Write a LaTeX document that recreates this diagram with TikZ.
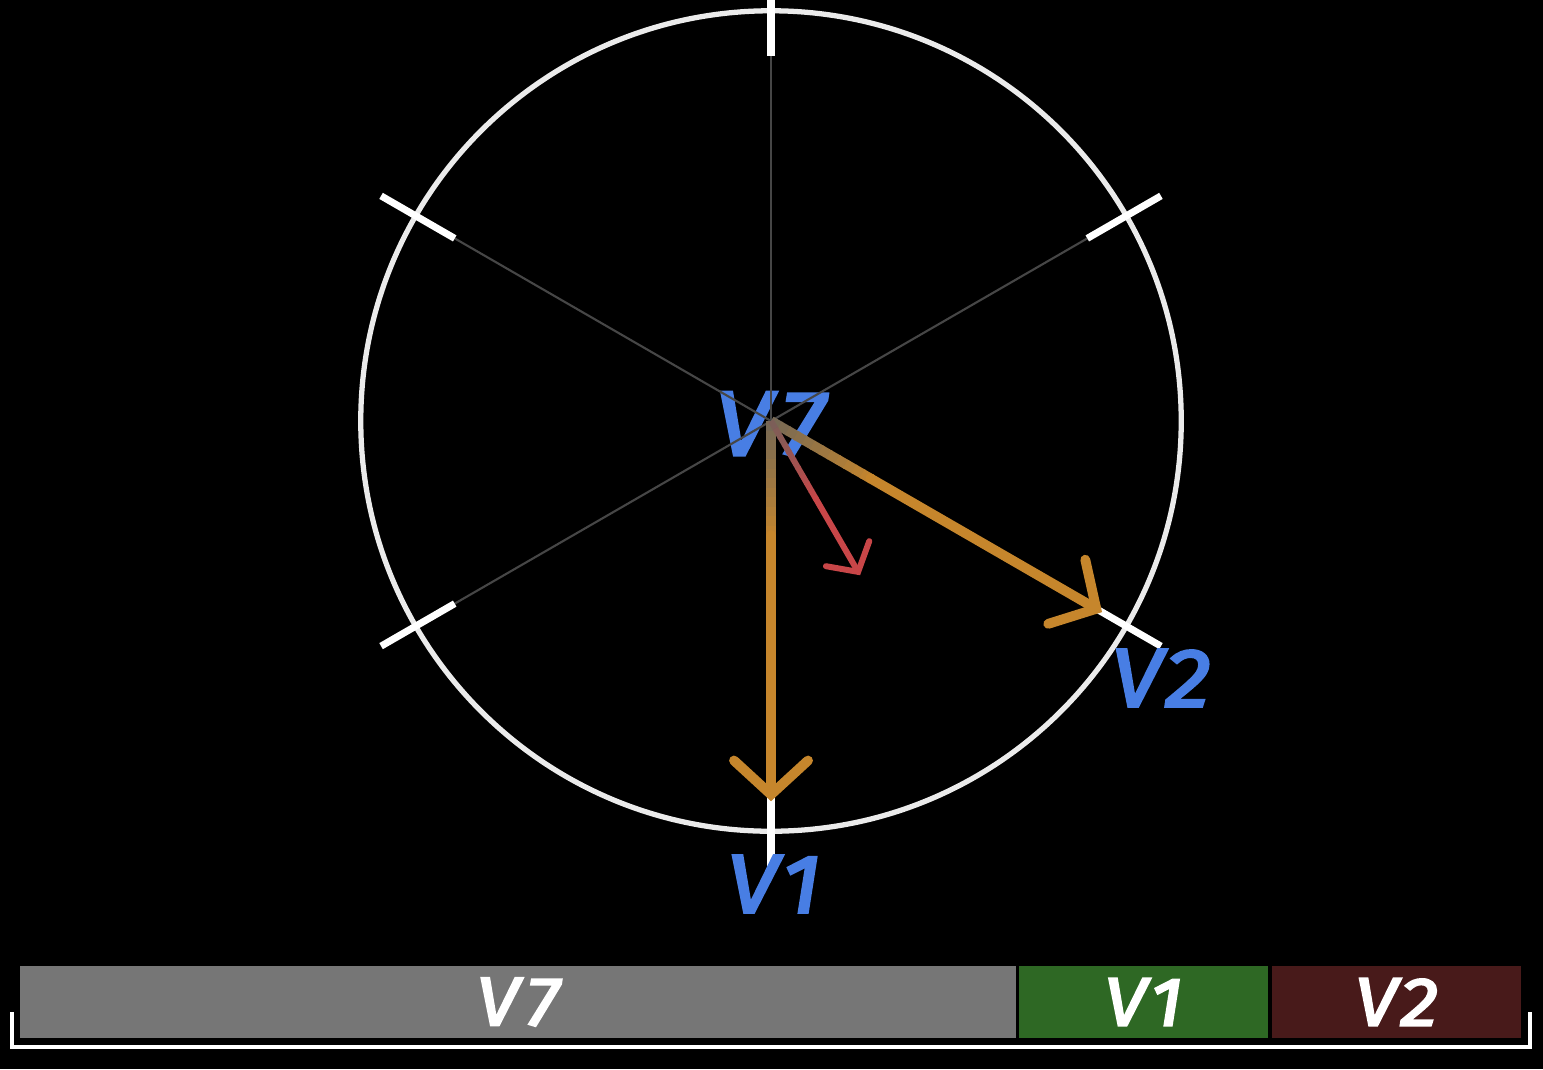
\documentclass[tikz,border=0pt]{standalone}
\usepackage{fontspec}
\setmainfont{Fira Sans}
\newfontfamily\lblfont{Fira Sans}[FakeStretch=1.12, FakeBold=3.2]
\usetikzlibrary{arrows.meta,calc}
\definecolor{lblblue}{RGB}{72,126,228}
\definecolor{arrorange}{RGB}{198,134,44}
\definecolor{arrred}{RGB}{200,70,72}
\definecolor{spoke}{RGB}{70,70,70}
\definecolor{fadegrey}{RGB}{105,100,92}
\definecolor{ringwhite}{RGB}{235,235,235}
\definecolor{barGrey}{RGB}{118,118,118}
\definecolor{barGreen}{RGB}{46,104,36}
\definecolor{barRed}{RGB}{72,26,26}
\begin{document}
\begin{tikzpicture}[x=0.01cm,y=-0.01cm,
  lbl/.style={text=lblblue, inner sep=0pt, font=\lblfont\itshape\fontsize{23.5}{23.5}\selectfont},
  barbox/.style={fill=#1, minimum height=0.72cm, inner sep=0pt, text=white,
     font=\lblfont\itshape\fontsize{19.5}{19.5}\selectfont},
  spokeline/.style={draw=spoke, line width=0.6pt},
  tickline/.style={draw=white, line width=2pt},
  bigarrow/.style={draw=arrorange, line width=2.8pt, line cap=round,
     -{Straight Barb[length=0.34cm, width=0.74cm, line cap=round]}},
  redarrow/.style={draw=arrred, line width=1.7pt, line cap=round,
     -{Straight Barb[length=0.21cm, width=0.50cm, line cap=round]}}]
\useasboundingbox (0,0) rectangle (1543,1069);
\fill[black] (0,0) rectangle (1543,1069);
\begin{scope}
\clip (0,0) rectangle (1543,1069);
\coordinate (O) at (771,421);
% center label
\node[lbl, font=\lblfont\itshape\fontsize{26}{26}\selectfont] (v7) at (770,424) {V\kern2.5pt 7};
% spokes and ticks
\foreach \ang [count=\k] in {90,30,-30,-90,-150,150} {
  \coordinate (s\k) at ($(O)+(\ang:3.65cm)$);
  \coordinate (e\k) at ($(O)+(\ang:4.5cm)$);
  \draw[spokeline] (O) -- (s\k);
}
% ring
\draw[ringwhite, line width=1.5pt] (O) circle[radius=4.1cm];
\foreach \k in {1,...,6} { \draw[tickline] (s\k) -- (e\k); }
% arrow tips
\coordinate (t1) at ($(O)+(-90:3.80cm)$);
\coordinate (t2) at ($(O)+(-30:3.82cm)$);
\coordinate (t3) at ($(O)+(-60:1.78cm)$);
% faded starts
\foreach \i [evaluate=\i as \a using \i*0.025,
             evaluate=\i as \b using (\i+1)*0.025+0.004,
             evaluate=\i as \p using int(15+\i*7)] in {0,...,11} {
  \draw[draw=arrorange!\p!fadegrey, line width=2.8pt] ($(O)!\a!(t1)$) -- ($(O)!\b!(t1)$);
  \draw[draw=arrorange!\p!fadegrey, line width=2.8pt] ($(O)!\a!(t2)$) -- ($(O)!\b!(t2)$);
}
\foreach \i [evaluate=\i as \a using \i*0.05,
             evaluate=\i as \b using (\i+1)*0.05+0.006,
             evaluate=\i as \p using int(20+\i*8)] in {0,...,9} {
  \draw[draw=arrred!\p!fadegrey, line width=1.7pt] ($(O)!\a!(t3)$) -- ($(O)!\b!(t3)$);
}
\draw[bigarrow] ($(O)!0.3!(t1)$) -- (t1);
\draw[bigarrow] ($(O)!0.3!(t2)$) -- (t2);
\draw[redarrow] ($(O)!0.5!(t3)$) -- (t3);
% outer labels
\node[lbl] (v1) at (774,884) {V\kern1pt 1};
\node[lbl] (v2) at (1161,678) {V\kern1pt 2};
% bar
\node[barbox=barGrey, minimum width=9.96cm] (b7) at (518,1002) {V\kern2pt 7};
\node[barbox=barGreen, minimum width=2.49cm] (b1) at (1143.5,1002) {V\kern1pt 1};
\node[barbox=barRed, minimum width=2.49cm] (b2) at (1396.5,1002) {V\kern1pt 2};
\coordinate (k1) at (12,1012);
\coordinate (k2) at (12,1047);
\coordinate (k3) at (1530,1047);
\coordinate (k4) at (1530,1012);
\draw[white, line width=1.2pt] (k1) -- (k2) -- (k3) -- (k4);
\end{scope}
\end{tikzpicture}
\end{document}
